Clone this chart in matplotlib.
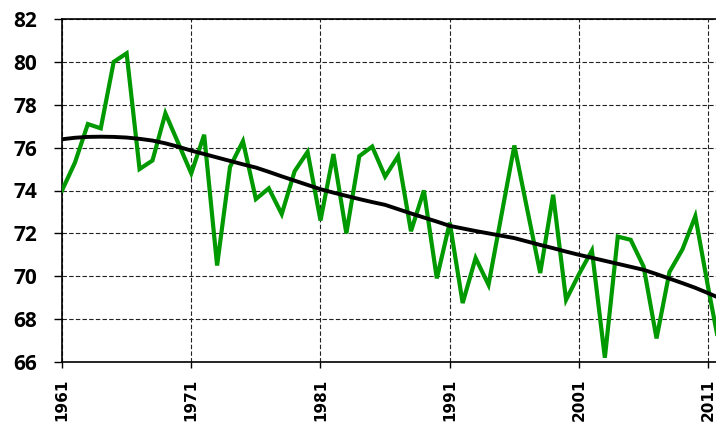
import numpy as np
import matplotlib.pyplot as plt

years = list(range(1961, 2013))
values = [74.0, 75.3, 77.1, 76.9, 80.0, 80.4, 75.0, 75.4, 77.6, 76.2,
          74.8, 76.6, 70.5, 75.1, 76.3, 73.6, 74.1, 72.9, 74.9, 75.8,
          72.6, 75.7, 72.0, 75.6, 76.05, 74.65, 75.6, 72.1, 74.0, 69.9,
          72.5, 68.75, 70.85, 69.6, 72.85, 76.1, 73.1, 70.15, 73.8, 68.9,
          70.1, 71.2, 66.2, 71.85, 71.7, 70.45, 67.1, 70.2, 71.25, 72.8,
          69.45, 66.3]
trend = [76.39, 76.46, 76.50, 76.51, 76.50, 76.47, 76.41, 76.33, 76.20, 76.04,
         75.86, 75.70, 75.54, 75.38, 75.22, 75.07, 74.87, 74.66, 74.46, 74.26,
         74.06, 73.90, 73.75, 73.60, 73.46, 73.33, 73.13, 72.93, 72.74, 72.55,
         72.35, 72.23, 72.11, 72.00, 71.89, 71.78, 71.62, 71.46, 71.31, 71.15,
         71.00, 70.86, 70.72, 70.58, 70.44, 70.30, 70.10, 69.89, 69.68, 69.46,
         69.21, 68.95]
xticks = [1961, 1971, 1981, 1991, 2001, 2011]
yticks = [66, 68, 70, 72, 74, 76, 78, 80, 82]

fig = plt.figure(figsize=(7.16, 4.28), dpi=100)
ax = fig.add_axes([62/716, 66/428, 1 - 62/716, 343/428])

ax.plot(years, values, color='#009900', linewidth=3.0, solid_joinstyle='miter', zorder=3)
ax.plot(years, trend, color='black', linewidth=2.8, zorder=4)

ax.set_xlim(1961, 2011.6)
ax.set_ylim(66, 82)
ax.set_xticks(xticks)
ax.set_yticks(yticks)
ax.grid(True, color='#222222', linestyle=(0, (4, 2)), linewidth=0.8)

ax.spines['right'].set_visible(False)
for s in ['left', 'bottom', 'top']:
    ax.spines[s].set_linewidth(1.2)

ax.tick_params(axis='y', direction='out', length=6, width=1, pad=12)
ax.tick_params(axis='x', direction='out', length=4, width=1, pad=8)
for lab in ax.get_yticklabels():
    lab.set_fontfamily('Open Sans')
    lab.set_fontweight('bold')
    lab.set_fontsize(15)
for lab in ax.get_xticklabels():
    lab.set_fontfamily('DejaVu Sans')
    lab.set_fontweight('bold')
    lab.set_fontsize(11)
    lab.set_rotation(90)

fig.savefig('out.png', dpi=100)
